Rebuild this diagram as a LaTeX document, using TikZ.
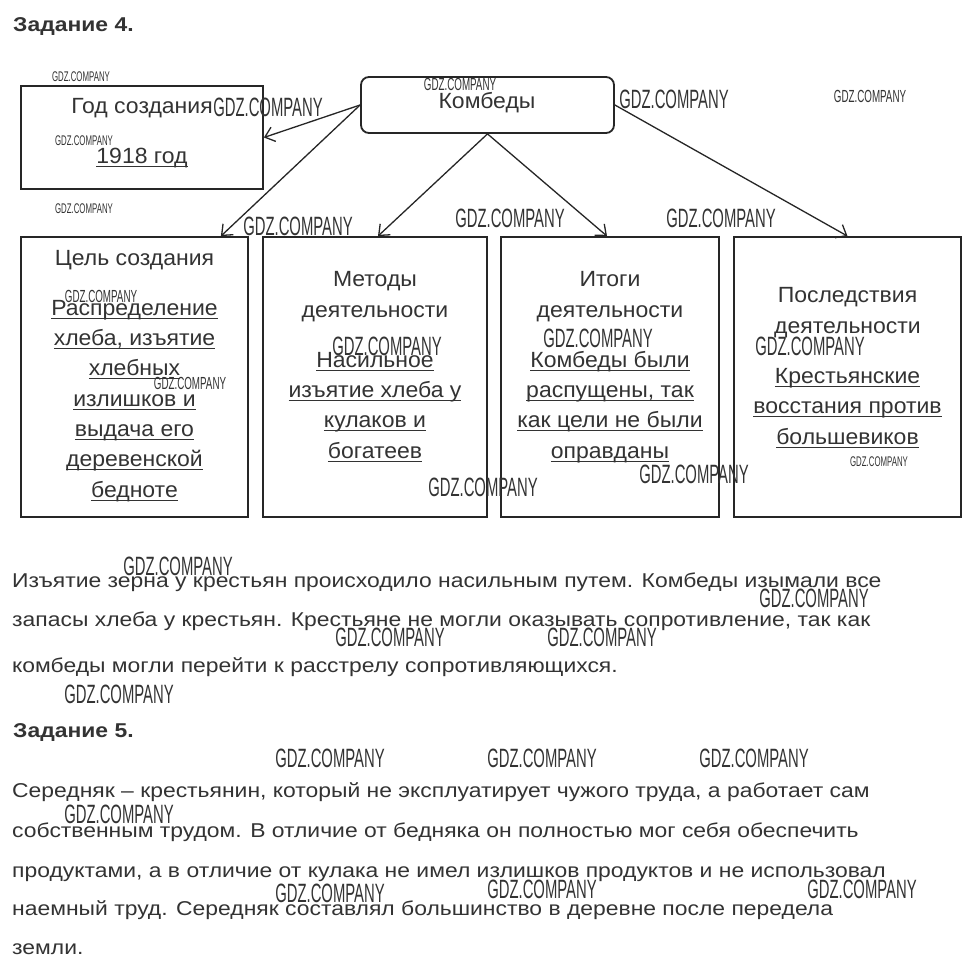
\documentclass[tikz,border=0pt]{standalone}
\usepackage{fontspec}
\setmainfont{Liberation Sans}
\newfontfamily\wmfont[FakeStretch=0.56]{Liberation Sans}
\newfontfamily\boxfont[FakeStretch=1.045]{Liberation Sans}
\newfontfamily\parafont[FakeStretch=1.145]{Liberation Sans}
\usetikzlibrary{arrows.meta}
\definecolor{txt}{HTML}{333333}
\newcommand{\ulin}[1]{\setbox0=\hbox{#1}\rlap{\rule[-3.5pt]{\wd0}{0.9pt}}\box0}

\begin{document}
\begin{tikzpicture}[x=1pt,y=1pt]
\tikzstyle{every node}+=[inner sep=0pt]
\tikzset{
  block/.style={draw=black!85, line width=1.8pt},
  head/.style={font=\boxfont\fontsize{22}{30.3}\selectfont, text=txt, align=center, anchor=base},
  para/.style={font=\parafont\fontsize{20}{24}\selectfont, text=txt, anchor=base west},
  task/.style={font=\parafont\bfseries\fontsize{20}{24}\selectfont, text=txt, anchor=base west},
  wmbig/.style={font=\wmfont\fontsize{26.5}{26.5}\selectfont, text=black!80},
  wmmid/.style={font=\wmfont\fontsize{17.5}{17.5}\selectfont, text=black!80},
  wmsmall/.style={font=\wmfont\fontsize{14}{14}\selectfont, text=black!80},
  link/.style={draw=black!85, line width=1.3pt, -{Straight Barb[length=9pt,width=15pt,line width=1.3pt]}}
}
\fill [white] (0,0) rectangle (971,-972);
\useasboundingbox (0,0) rectangle (971,-972);
% title
\node [task] (t4) at (13,-31) {Задание 4.};
% boxes
\node [block, minimum width=242, minimum height=103] (god) at (142,-137.5) {};
\node [block, rounded corners=8pt, minimum width=253, minimum height=56] (kombedy) at (487.5,-105) {};
\node [block, minimum width=227, minimum height=280] (tsel) at (134.5,-377) {};
\node [block, minimum width=224, minimum height=280] (metody) at (375,-377) {};
\node [block, minimum width=218, minimum height=280] (itogi) at (610,-377) {};
\node [block, minimum width=227, minimum height=280] (posl) at (847.5,-377) {};
% texts in boxes (base = last line)
\node [head] (godhead) at (142,-113) {Год создания};
\node [head] (godtext) at (142,-163) {\ulin{1918 год}};
\node [head] (kombedyhead) at (487,-108) {Комбеды};
\node [head] (tselhead) at (134.5,-265) {Цель создания};
\node [head] (tseltext) at (134.5,-497) {\ulin{Распределение}\\\ulin{хлеба, изъятие}\\\ulin{хлебных}\\\ulin{излишков и}\\\ulin{выдача его}\\\ulin{деревенской}\\\ulin{бедноте}};
\node [head] (metodyhead) at (375,-317) {Методы\\деятельности};
\node [head] (metodytext) at (375,-458) {\ulin{Насильное}\\\ulin{изъятие хлеба у}\\\ulin{кулаков и}\\\ulin{богатеев}};
\node [head] (itogihead) at (610,-317) {Итоги\\деятельности};
\node [head] (itogitext) at (610,-458) {\ulin{Комбеды были}\\\ulin{распущены, так}\\\ulin{как цели не были}\\\ulin{оправданы}};
\node [head] (poslhead) at (847.5,-333) {Последствия\\деятельности};
\node [head] (posltext) at (847.5,-444) {\ulin{Крестьянские}\\\ulin{восстания против}\\\ulin{большевиков}};
% arrows
\draw [link] (kombedy.west) -- (god.east);
\draw [link] (kombedy.west) -- ([xshift=-28pt]tsel.north east);
\draw [link] (kombedy.south) -- ([xshift=3pt]metody.north);
\draw [link] (kombedy.south) -- ([xshift=-3pt]itogi.north);
\draw [link] (kombedy.east) -- (posl.north);
% text below
\node [para] (p1) at (12,-587) {Изъятие зерна у крестьян происходило насильным путем. Комбеды изымали все};
\node [para] (p2) at (12,-626) {запасы хлеба у крестьян. Крестьяне не могли оказывать сопротивление, так как};
\node [para] (p3) at (12,-672) {комбеды могли перейти к расстрелу сопротивляющихся.};
\node [task] (t5) at (13,-737) {Задание 5.};
\node [para] (q1) at (12,-797) {Середняк – крестьянин, который не эксплуатирует чужого труда, а работает сам};
\node [para] (q2) at (12,-837) {собственным трудом. В отличие от бедняка он полностью мог себя обеспечить};
\node [para] (q3) at (12,-877) {продуктами, а в отличие от кулака не имел излишков продуктов и не использовал};
\node [para] (q4) at (12,-915) {наемный труд. Середняк составлял большинство в деревне после передела};
\node [para] (q5) at (12,-954) {земли.};
% watermarks
\node [wmsmall] (wm1) at (81,-77) {GDZ.COMPANY};
\node [wmbig] (wm2) at (268,-107) {GDZ.COMPANY};
\node [wmmid] (wm3) at (460,-84) {GDZ.COMPANY};
\node [wmbig] (wm4) at (674,-99) {GDZ.COMPANY};
\node [wmmid] (wm5) at (870,-96) {GDZ.COMPANY};
\node [wmsmall] (wm6) at (84,-141) {GDZ.COMPANY};
\node [wmsmall] (wm7) at (84,-209) {GDZ.COMPANY};
\node [wmbig] (wm8) at (298,-226) {GDZ.COMPANY};
\node [wmbig] (wm9) at (510,-218) {GDZ.COMPANY};
\node [wmbig] (wm10) at (721,-218) {GDZ.COMPANY};
\node [wmmid] (wm11) at (101,-296) {GDZ.COMPANY};
\node [wmmid] (wm12) at (190,-383) {GDZ.COMPANY};
\node [wmbig] (wm13) at (387,-346) {GDZ.COMPANY};
\node [wmbig] (wm14) at (598,-338) {GDZ.COMPANY};
\node [wmbig] (wm15) at (810,-346) {GDZ.COMPANY};
\node [wmbig] (wm16) at (483,-487) {GDZ.COMPANY};
\node [wmbig] (wm17) at (694,-474) {GDZ.COMPANY};
\node [wmsmall] (wm18) at (879,-462) {GDZ.COMPANY};
\node [wmbig] (wm19) at (178,-566) {GDZ.COMPANY};
\node [wmbig] (wm20) at (814,-598) {GDZ.COMPANY};
\node [wmbig] (wm21) at (390,-637) {GDZ.COMPANY};
\node [wmbig] (wm22) at (602,-637) {GDZ.COMPANY};
\node [wmbig] (wm23) at (119,-694) {GDZ.COMPANY};
\node [wmbig] (wm24) at (330,-758) {GDZ.COMPANY};
\node [wmbig] (wm25) at (542,-758) {GDZ.COMPANY};
\node [wmbig] (wm26) at (754,-758) {GDZ.COMPANY};
\node [wmbig] (wm27) at (119,-814) {GDZ.COMPANY};
\node [wmbig] (wm28) at (330,-893) {GDZ.COMPANY};
\node [wmbig] (wm29) at (542,-889) {GDZ.COMPANY};
\node [wmbig] (wm30) at (862,-889) {GDZ.COMPANY};
\end{tikzpicture}
\end{document}
